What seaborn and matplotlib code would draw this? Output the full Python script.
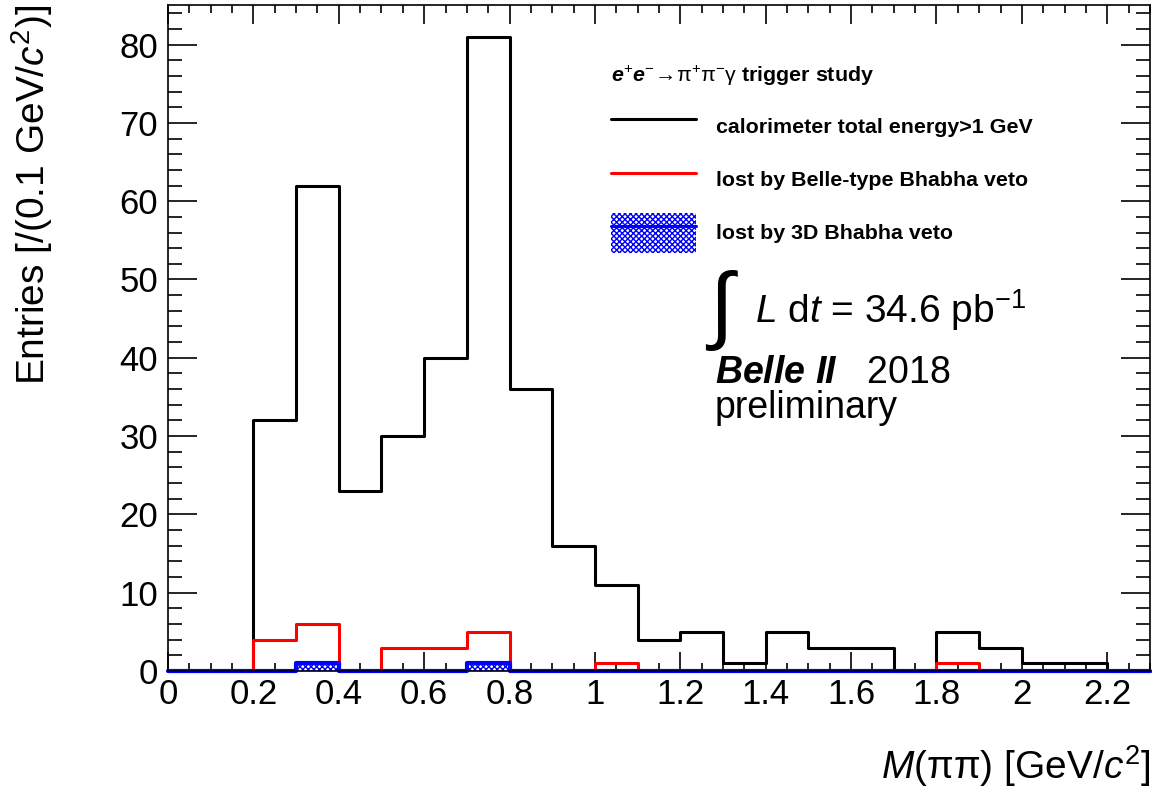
import numpy as np
import pandas as pd
import matplotlib
matplotlib.use('Agg')
import matplotlib.pyplot as plt
import seaborn as sns
from matplotlib.lines import Line2D
from matplotlib.patches import Patch
from matplotlib.ticker import MultipleLocator, FuncFormatter

# Histogram binning (0.1 GeV/c^2 bins from 0 to 2.3)
bin_edges = [0.0, 0.1, 0.2, 0.3, 0.4, 0.5, 0.6, 0.7, 0.8, 0.9, 1.0, 1.1,
             1.2, 1.3, 1.4, 1.5, 1.6, 1.7, 1.8, 1.9, 2.0, 2.1, 2.2, 2.3]

# Entries per bin
counts_total = [0, 0, 32, 62, 23, 30, 40, 81, 36, 16, 11, 4, 5, 1, 5, 3, 3, 0, 5, 3, 1, 1, 0]
counts_belle_veto = [0, 0, 4, 6, 0, 3, 3, 5, 0, 0, 1, 0, 0, 0, 0, 0, 0, 0, 1, 0, 0, 0, 0]
counts_3d_veto = [0, 0, 0, 1, 0, 0, 0, 1, 0, 0, 0, 0, 0, 0, 0, 0, 0, 0, 0, 0, 0, 0, 0]

labels = ['calorimeter total energy>1 GeV',
          'lost by Belle-type Bhabha veto',
          'lost by 3D Bhabha veto']

sns.set_style('ticks')
plt.rcParams['font.family'] = ['Liberation Sans', 'DejaVu Sans']
plt.rcParams['mathtext.fontset'] = 'custom'
plt.rcParams['mathtext.rm'] = 'Liberation Sans'
plt.rcParams['mathtext.it'] = 'Liberation Sans:italic'
plt.rcParams['mathtext.bf'] = 'Liberation Sans:bold'
plt.rcParams['mathtext.bfit'] = 'Liberation Sans:bold:italic'
plt.rcParams['hatch.linewidth'] = 1.0
for key in ['text.color', 'axes.labelcolor', 'xtick.color', 'ytick.color', 'axes.edgecolor']:
    plt.rcParams[key] = 'black'

edges = np.array(bin_edges)
df = pd.DataFrame({
    'center': (edges[:-1] + edges[1:]) / 2,
    'total': counts_total,
    'belle': counts_belle_veto,
    'threed': counts_3d_veto,
})

fig = plt.figure(figsize=(11.65, 7.96), dpi=100)
ax = fig.add_axes([0.1442, 0.157, 0.8429, 0.8367])

lw = 2.2
# Total
sns.histplot(data=df, x='center', weights='total', bins=bin_edges, element='step',
             fill=False, color='black', linewidth=lw, ax=ax)
# Belle-type veto
sns.histplot(data=df, x='center', weights='belle', bins=bin_edges, element='step',
             fill=False, color='red', linewidth=lw, ax=ax)
# 3D veto: hatched fill + line
n_coll = len(ax.collections)
sns.histplot(data=df, x='center', weights='threed', bins=bin_edges, element='step',
             fill=True, color='blue', linewidth=0, ax=ax)
for coll in ax.collections[n_coll:]:
    coll.set_facecolor('white')
    coll.set_edgecolor('blue')
    coll.set_hatch('xxxxxx')
    coll.set_linewidth(0)
sns.histplot(data=df, x='center', weights='threed', bins=bin_edges, element='step',
             fill=False, color='blue', linewidth=lw + 0.8, ax=ax)
for line in ax.lines:
    line.set_clip_on(False)

ax.set_xlim(0, 2.3)
ax.set_ylim(0, 85.05)

ax.xaxis.set_major_locator(MultipleLocator(0.2))
ax.xaxis.set_minor_locator(MultipleLocator(0.05))
ax.yaxis.set_major_locator(MultipleLocator(10))
ax.yaxis.set_minor_locator(MultipleLocator(2))
ax.xaxis.set_major_formatter(FuncFormatter(lambda v, p: '%g' % round(v, 2)))
ax.yaxis.set_major_formatter(FuncFormatter(lambda v, p: '%g' % v))

ax.tick_params(which='both', direction='in', top=True, right=True, width=1.2, labelsize=25)
ax.tick_params(axis='x', which='major', length=14, pad=5)
ax.tick_params(axis='x', which='minor', length=6)
ax.tick_params(axis='y', which='major', length=21, pad=7)
ax.tick_params(axis='y', which='minor', length=10)
for sp in ax.spines.values():
    sp.set_linewidth(1.2)
    sp.set_visible(True)

ax.set_xlabel(r'$M$($\mathrm{\pi\pi}$) [GeV/$c^2$]', fontsize=28, loc='right')
ax.xaxis.set_label_coords(1.0, -0.108)
ax.set_ylabel(r'Entries [/(0.1 GeV/$c^2$)]', fontsize=28, loc='top')
ax.yaxis.set_label_coords(-0.115, 1.0)

# Legend
handles = [Line2D([], [], color='black', linewidth=lw),
           Line2D([], [], color='red', linewidth=lw),
           (Patch(facecolor='white', edgecolor='blue', hatch='xxxxxx', linewidth=0),
            Line2D([], [], color='blue', linewidth=lw))]
leg = ax.legend(handles, labels, loc='upper left', bbox_to_anchor=(0.442, 0.925),
                frameon=False, prop={'weight': 'bold', 'size': 15.4},
                title=r'$\mathbfit{e}^{+}\mathbfit{e}^{-}\!\rightarrow\!\mathrm{\pi}^{+}\mathrm{\pi}^{-}\mathrm{\gamma}$ trigger study',
                title_fontproperties={'weight': 'bold', 'size': 15.4},
                alignment='left', handlelength=4.0, handleheight=2.45,
                handletextpad=0.93, labelspacing=0.66, borderaxespad=0)
leg._legend_box.sep = 13.5

# Luminosity and experiment labels
ax.text(0.547, 0.541, r'$\int$', transform=ax.transAxes, fontsize=62,
        ha='left', va='center')
ax.text(0.598, 0.5225, r'$L$ d$t$ = 34.6 pb$^{-1}$', transform=ax.transAxes,
        fontsize=28, ha='left', va='baseline')
ax.text(0.557, 0.4324, r'$\mathbfit{Belle\ II}$   2018', transform=ax.transAxes,
        fontsize=27, ha='left', va='baseline')
ax.text(0.557, 0.3799, 'preliminary', transform=ax.transAxes,
        fontsize=27, ha='left', va='baseline')

fig.savefig('out.png', dpi=100)
